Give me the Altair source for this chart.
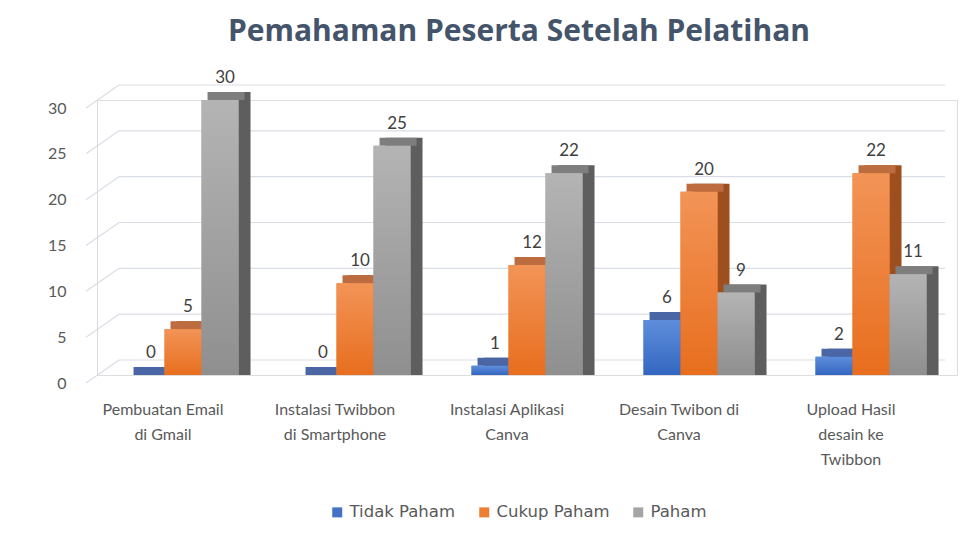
import altair as alt
import pandas as pd

categories = ["Pembuatan Email|di Gmail", "Instalasi Twibbon|di Smartphone",
              "Instalasi Aplikasi|Canva", "Desain Twibon di|Canva",
              "Upload Hasil|desain ke|Twibbon"]
series = ["Tidak Paham", "Cukup Paham", "Paham"]
tidak_paham = [0, 0, 1, 6, 2]
cukup_paham = [5, 10, 12, 20, 22]
paham = [30, 25, 22, 9, 11]
ticks = [0, 5, 10, 15, 20, 25, 30]

flat = ["#4472C4", "#ED7D31", "#A5A5A5"]
grad_top = ["#5E8EDB", "#F29457", "#B4B4B4"]
grad_bot = ["#3366C0", "#E86E1E", "#8F8F8F"]
side_col = ["#2C4A86", "#9E4F1F", "#5E5E5E"]
top_col = ["#4A66A4", "#BC6C3E", "#7E7E7E"]

rows = []
for s, vals in zip(series, [tidak_paham, cukup_paham, paham]):
    for c, v in zip(categories, vals):
        rows.append({"kategori": c, "seri": s, "nilai": v})
df = pd.DataFrame(rows)
tick_df = pd.DataFrame({"t": ticks})

FONT = "Lato"
W, H = 860, 275
BW = 111          # group width inside each band (pixels)
DX, DY = 12, 8    # depth of the pseudo-3D boxes

xenc = alt.X("kategori:N", sort=categories,
             scale=alt.Scale(paddingInner=0.355, paddingOuter=0.1775),
             axis=alt.Axis(title=None, labelAngle=0, domain=False, ticks=False,
                           labelExpr="split(datum.label, '|')", labelFontSize=16,
                           labelColor="#595959", labelFont=FONT, labelPadding=26,
                           labelLineHeight=25, labelOffset=-20))


def xoff(shift=0):
    return alt.XOffset("seri:N", sort=series,
                       scale=alt.Scale(domain=series, range=[shift, BW + shift]))


yscale = alt.Scale(domain=[0, 30], nice=False)
yenc = alt.Y("nilai:Q", stack=None, scale=yscale,
             axis=alt.Axis(title=None, values=ticks, grid=False, domain=False,
                           ticks=False, labelFontSize=16, labelColor="#595959",
                           labelFont=FONT, labelPadding=31, labelOffset=8))

base = alt.Chart(df)

# gridlines (pseudo perspective)
grid_diag = alt.Chart(tick_df).mark_rule(color="#D9DEE6", strokeWidth=1.2,
                                         yOffset=DY, y2Offset=-15).encode(
    x=alt.value(-11), x2=alt.value(22),
    y=alt.Y("t:Q", scale=yscale), y2="t:Q")
grid_back = alt.Chart(tick_df).mark_rule(color="#D9DEE6", strokeWidth=1.2,
                                         yOffset=-15).encode(
    x=alt.value(22), x2=alt.value(W - 12),
    y=alt.Y("t:Q", scale=yscale))

layers = [grid_diag, grid_back]

# depth: side faces and top faces
for i, s in enumerate(series):
    side = base.transform_filter(alt.datum.seri == s).mark_bar(
        color=side_col[i], yOffset=-DY).encode(
        x=xenc, xOffset=xoff(DX), y=yenc)
    layers.append(side)
for i, s in enumerate(series):
    top = base.transform_filter(alt.datum.seri == s).mark_bar(
        color=top_col[i], yOffset=-DY).encode(
        x=xenc, xOffset=xoff(DX / 2), y=yenc, y2="nilai:Q")
    layers.append(top)

# flat front (gives the legend)
front = base.mark_bar().encode(
    x=xenc, xOffset=xoff(0), y=yenc,
    color=alt.Color("seri:N", sort=series,
                    scale=alt.Scale(domain=series, range=flat),
                    legend=alt.Legend(title=None, orient="none", direction="horizontal",
                                      legendX=232, legendY=404, padding=0,
                                      symbolType="square", symbolSize=100,
                                      labelFontSize=16.5, labelColor="#595959",
                                      labelFont="DejaVu Sans", columnPadding=20,
                                      symbolStrokeWidth=0, labelOffset=4)))
layers.append(front)

# gradient overlays on the front faces
for i, s in enumerate(series):
    g = base.transform_filter(alt.datum.seri == s).mark_bar(
        color=alt.Gradient(gradient="linear", x1=0, y1=0, x2=0, y2=1,
                           stops=[alt.GradientStop(color=grad_top[i], offset=0),
                                  alt.GradientStop(color=grad_bot[i], offset=1)])).encode(
        x=xenc, xOffset=xoff(0), y=yenc)
    layers.append(g)

labels = base.mark_text(baseline="bottom", dy=-13, dx=5, fontSize=17,
                        color="#404040", font=FONT).encode(
    x=xenc, xOffset=xoff(0), y=yenc, text="nilai:Q")
layers.append(labels)

chart = alt.layer(*layers).resolve_scale(xOffset="independent").properties(
    width=W, height=H,
    title=alt.TitleParams("Pemahaman Peserta Setelah Pelatihan", fontSize=30,
                          font="Open Sans", fontWeight="bold", color="#44546A",
                          anchor="middle", offset=22, dx=-8),
    padding={"left": 39, "top": 9, "right": 5, "bottom": 5}
).configure_view(stroke=None).configure(background="white")

chart.save("out.html", embed_options={"renderer": "svg", "actions": False})
